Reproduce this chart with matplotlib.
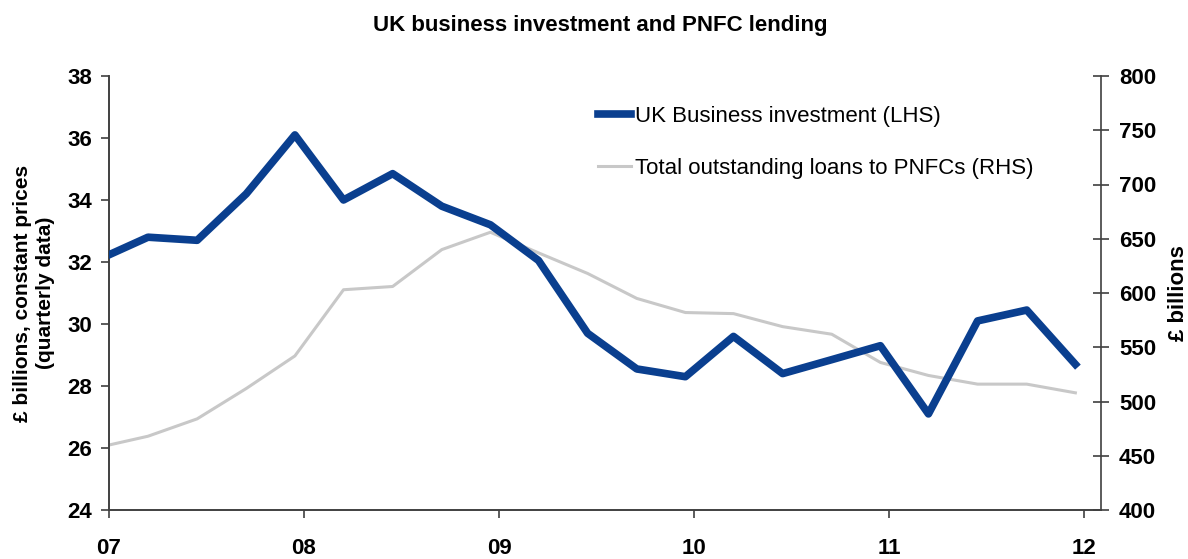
import matplotlib
matplotlib.use('Agg')
import matplotlib.pyplot as plt
import matplotlib.dates as mdates
from matplotlib import font_manager
import pandas as pd
import datetime as dt

# data to plot (quarterly, dated mid last month of each quarter)
quarters = pd.date_range('2006-12-15', periods=21, freq=pd.DateOffset(months=3))
business_inv = [32.1, 32.8, 32.7, 34.2, 36.1, 34.0, 34.85, 33.8, 33.2, 32.05,
                29.7, 28.55, 28.3, 29.6, 28.4, 28.85, 29.3, 27.1, 30.1, 30.45, 28.7]
pnfc_loans = [458, 468, 484, 512, 542, 603, 606, 640, 656, 637,
              618, 595, 582, 581, 569, 562, 536, 524, 516, 516, 508]

left_ticks = [24, 26, 28, 30, 32, 34, 36, 38]
right_ticks = [400, 450, 500, 550, 600, 650, 700, 750, 800]

names = {f.name for f in font_manager.fontManager.ttflist}
narrow = 'Liberation Sans Narrow' if 'Liberation Sans Narrow' in names else 'Liberation Sans'
plt.rcParams['font.family'] = [narrow, 'DejaVu Sans']

blue = '#0a3f8f'
grey = '#c8c8c8'
axis_col = '#404040'

fig = plt.figure(figsize=(11.88, 5.59), dpi=100)
ax = fig.add_axes([109 / 1188, 1 - 510 / 559, 992 / 1188, 434 / 559])
ax2 = ax.twinx()

ax.plot(quarters, business_inv, color=blue, linewidth=5.5, label='UK Business investment (LHS)', zorder=3)
ax2.plot(quarters, pnfc_loans, color=grey, linewidth=2.2, label='Total outstanding loans to PNFCs (RHS)')
ax.set_zorder(ax2.get_zorder() + 1)
ax.patch.set_visible(False)

ax.set_xlim(dt.date(2007, 1, 1), dt.date(2012, 2, 1))
ax.set_ylim(24, 38)
ax2.set_ylim(400, 800)
ax.set_yticks(left_ticks)
ax2.set_yticks(right_ticks)
ax.xaxis.set_major_locator(mdates.YearLocator())
ax.xaxis.set_major_formatter(mdates.DateFormatter('%y'))

for a in (ax, ax2):
    a.spines['top'].set_visible(False)
    for s in a.spines.values():
        s.set_color(axis_col)
        s.set_linewidth(1.2)
ax.spines['right'].set_visible(False)

ax.tick_params(axis='x', direction='out', length=6, width=1.2, color=axis_col, pad=14,
               labelsize=16)
ax.tick_params(axis='y', direction='out', length=6, width=1.2, color=axis_col, pad=6,
               labelsize=16)
ax2.tick_params(axis='y', direction='inout', length=12, width=1.2, color=axis_col, pad=7,
                labelsize=16)
for lab in ax.get_xticklabels() + ax.get_yticklabels() + ax2.get_yticklabels():
    lab.set_fontweight('bold')

ax.set_ylabel('£ billions, constant prices\n(quarterly data)', fontsize=15, fontweight='bold',
              linespacing=1.3, va='center', ha='center')
ax.yaxis.set_label_coords((34 - 109) / 992, 0.5)
ax2.set_ylabel('£ billions', fontsize=16, fontweight='bold', va='center', ha='center')
ax2.yaxis.set_label_coords((1178 - 109) / 992, 0.5)

fig.text(600 / 1188, 1 - 25 / 559, 'UK business investment and PNFC lending', ha='center',
         va='center', fontsize=16, fontweight='bold', family=['Liberation Sans', 'DejaVu Sans'])

h1, l1 = ax.get_legend_handles_labels()
h2, l2 = ax2.get_legend_handles_labels()
ax.legend(h1 + h2, l1 + l2, loc='upper left', bbox_to_anchor=((582 - 109) / 992, 1 - 14 / 434),
          frameon=False, fontsize=16, handlelength=1.5, handletextpad=0.2,
          labelspacing=1.4, borderaxespad=0.3)

fig.savefig('out.png', dpi=100)
